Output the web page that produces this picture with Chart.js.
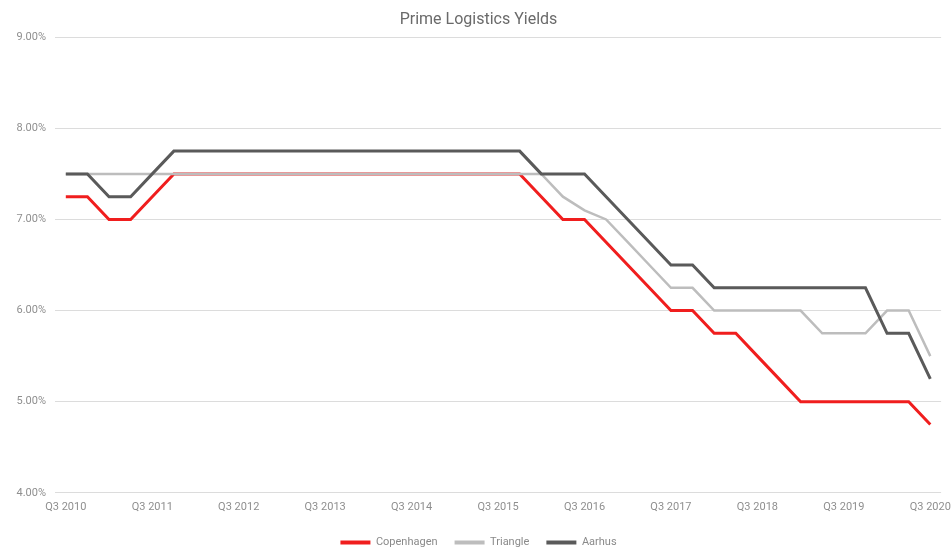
<!DOCTYPE html>
<html>
<head>
<meta charset="utf-8">
<title>Prime Logistics Yields</title>
<script src="https://cdn.jsdelivr.net/npm/chart.js@4/dist/chart.umd.min.js"></script>
<style>
  html, body { margin: 0; padding: 0; background: #ffffff; }
  #wrap { width: 951px; height: 551px; }
</style>
</head>
<body>
<div id="wrap"><canvas id="yieldsChart"></canvas></div>
<script>
// quarters Q3 2010 .. Q3 2020
const quarters = [];
for (let y = 2010; y <= 2020; y++) {
    ['Q1', 'Q2', 'Q3', 'Q4'].forEach(q => {
        const label = q + ' ' + y;
        if ((y === 2010 && (q === 'Q1' || q === 'Q2')) || (y === 2020 && q === 'Q4')) return;
        quarters.push(label);
    });
}

const copenhagen = [
    7.25, 7.25, 7.00, 7.00, 7.25, 7.50, 7.50, 7.50, 7.50, 7.50,
    7.50, 7.50, 7.50, 7.50, 7.50, 7.50, 7.50, 7.50, 7.50, 7.50,
    7.50, 7.50, 7.25, 7.00, 7.00, 6.75, 6.50, 6.25, 6.00, 6.00,
    5.75, 5.75, 5.50, 5.25, 5.00, 5.00, 5.00, 5.00, 5.00, 5.00,
    4.75
];

const triangle = [
    7.50, 7.50, 7.50, 7.50, 7.50, 7.50, 7.50, 7.50, 7.50, 7.50,
    7.50, 7.50, 7.50, 7.50, 7.50, 7.50, 7.50, 7.50, 7.50, 7.50,
    7.50, 7.50, 7.50, 7.25, 7.10, 7.00, 6.75, 6.50, 6.25, 6.25,
    6.00, 6.00, 6.00, 6.00, 6.00, 5.75, 5.75, 5.75, 6.00, 6.00,
    5.50
];

const aarhus = [
    7.50, 7.50, 7.25, 7.25, 7.50, 7.75, 7.75, 7.75, 7.75, 7.75,
    7.75, 7.75, 7.75, 7.75, 7.75, 7.75, 7.75, 7.75, 7.75, 7.75,
    7.75, 7.75, 7.50, 7.50, 7.50, 7.25, 7.00, 6.75, 6.50, 6.50,
    6.25, 6.25, 6.25, 6.25, 6.25, 6.25, 6.25, 6.25, 5.75, 5.75,
    5.25
];

const seriesNames = ['Copenhagen', 'Triangle', 'Aarhus'];
const seriesColors = ['#f01e1e', '#bdbdbd', '#5a5a5a'];

const ctx = document.getElementById('yieldsChart').getContext('2d');

const data = {
    labels: quarters,
    datasets: [copenhagen, triangle, aarhus].map((values, i) => ({
        label: seriesNames[i],
        data: values,
        borderColor: seriesColors[i],
        backgroundColor: seriesColors[i],
        borderWidth: i === 1 ? 2.5 : 3,
        pointRadius: 0,
        tension: 0,
        fill: false,
        order: 2 - i // Aarhus on top, like the original
    }))
};

new Chart(ctx, {
    type: 'line',
    data: data,
    options: {
        responsive: true,
        maintainAspectRatio: false,
        animation: false,
        layout: { padding: { left: 14, right: 8, top: 2, bottom: -7 } },
        plugins: {
            title: {
                display: true,
                text: 'Prime Logistics Yields',
                color: '#6a6a6a',
                font: { family: 'Roboto', size: 16, weight: 'normal' },
                padding: { top: 8, bottom: 8 }
            },
            legend: {
                position: 'bottom',
                labels: {
                    color: '#8a8a8a',
                    font: { family: 'Roboto', size: 11 },
                    boxWidth: 30,
                    boxHeight: 4,
                    padding: 17,
                    sort: (a, b) => a.datasetIndex - b.datasetIndex,
                    generateLabels: chart => {
                        const items = Chart.defaults.plugins.legend.labels.generateLabels(chart);
                        items.forEach(item => { item.lineWidth = 0; });
                        return items;
                    }
                }
            },
            tooltip: { enabled: false }
        },
        scales: {
            x: {
                offset: true,
                grid: { display: false },
                border: { display: false },
                afterFit: scale => { scale.height += 6; },
                ticks: {
                    autoSkip: false,
                    maxRotation: 0,
                    color: '#8f8f8f',
                    font: { family: 'Roboto', size: 11 },
                    padding: 0,
                    callback: function (value, index) {
                        return index % 4 === 0 ? this.getLabelForValue(value) : '';
                    }
                }
            },
            y: {
                min: 4,
                max: 9,
                grid: { color: '#dcdcdc', drawTicks: false },
                border: { display: false },
                afterFit: scale => { scale.width = 41; },
                ticks: {
                    stepSize: 1,
                    color: '#8f8f8f',
                    font: { family: 'Roboto', size: 11 },
                    padding: 9,
                    callback: v => v.toFixed(2) + '%'
                }
            }
        }
    }
});
</script>
</body>
</html>
